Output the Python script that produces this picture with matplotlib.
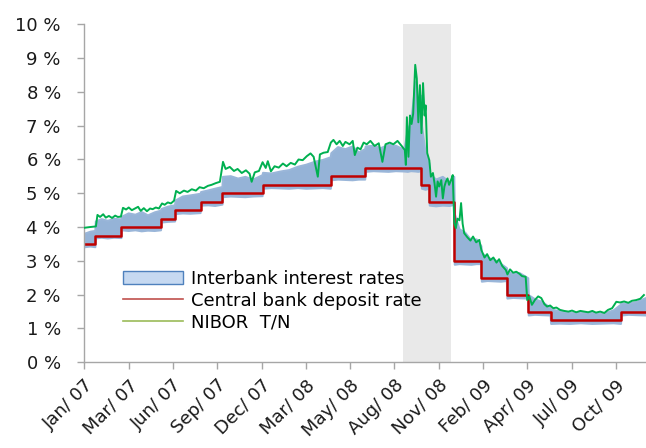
import matplotlib
matplotlib.use("Agg")
import matplotlib.pyplot as plt
from matplotlib.patches import Patch
from matplotlib.lines import Line2D
import pandas as pd

# Central bank deposit rate (step changes)
rate_dates = ["2007-01-01", "2007-01-22", "2007-03-13", "2007-05-28", "2007-06-24",
              "2007-08-12", "2007-09-23", "2007-12-09", "2008-04-18", "2008-06-23",
              "2008-10-09", "2008-10-24", "2008-12-11", "2009-02-01", "2009-03-22",
              "2009-05-02", "2009-06-14", "2009-10-27", "2009-12-14"]
rate_values = [3.50, 3.75, 4.00, 4.25, 4.50, 4.75, 5.00, 5.25, 5.50, 5.75,
               5.25, 4.75, 3.00, 2.50, 2.00, 1.50, 1.25, 1.50, 1.50]

# NIBOR T/N
nibor_dates = [
    "2007-01-01", "2007-01-11", "2007-01-23", "2007-01-26", "2007-01-31", "2007-02-06",
    "2007-02-11", "2007-02-17", "2007-02-23", "2007-03-01", "2007-03-06", "2007-03-12",
    "2007-03-16", "2007-03-22", "2007-03-27", "2007-04-02", "2007-04-08", "2007-04-14",
    "2007-04-19", "2007-04-25", "2007-05-01", "2007-05-07", "2007-05-12", "2007-05-18",
    "2007-05-24", "2007-05-30", "2007-06-04", "2007-06-10", "2007-06-16", "2007-06-22",
    "2007-06-26", "2007-07-03", "2007-07-11", "2007-07-18", "2007-07-26", "2007-08-03",
    "2007-08-10", "2007-08-18", "2007-08-26", "2007-09-02", "2007-09-10", "2007-09-18",
    "2007-09-24", "2007-09-29", "2007-10-07", "2007-10-15", "2007-10-22", "2007-10-30",
    "2007-11-07", "2007-11-14", "2007-11-18", "2007-11-24", "2007-12-02", "2007-12-09",
    "2007-12-15", "2007-12-19", "2007-12-25", "2008-01-01", "2008-01-09", "2008-01-17",
    "2008-01-24", "2008-02-01", "2008-02-09", "2008-02-16", "2008-02-24", "2008-03-03",
    "2008-03-10", "2008-03-16", "2008-03-24", "2008-03-28", "2008-04-04", "2008-04-12",
    "2008-04-18", "2008-04-23", "2008-04-29", "2008-05-05", "2008-05-11", "2008-05-16",
    "2008-05-24", "2008-05-30", "2008-06-03", "2008-06-08", "2008-06-14", "2008-06-20",
    "2008-06-26", "2008-07-03", "2008-07-11", "2008-07-19", "2008-07-26", "2008-08-01",
    "2008-08-09", "2008-08-16", "2008-08-24", "2008-09-01", "2008-09-07", "2008-09-09",
    "2008-09-11", "2008-09-14", "2008-09-17", "2008-09-20", "2008-09-23", "2008-09-27",
    "2008-09-30", "2008-10-03", "2008-10-06", "2008-10-09", "2008-10-12", "2008-10-15",
    "2008-10-17", "2008-10-20", "2008-10-24", "2008-10-27", "2008-10-31", "2008-11-03",
    "2008-11-06", "2008-11-09", "2008-11-12", "2008-11-16", "2008-11-19", "2008-11-22",
    "2008-11-25", "2008-11-28", "2008-12-01", "2008-12-05", "2008-12-08", "2008-12-11",
    "2008-12-14", "2008-12-17", "2008-12-21", "2008-12-24", "2008-12-27", "2008-12-30",
    "2009-01-05", "2009-01-11", "2009-01-16", "2009-01-22", "2009-01-28", "2009-02-01",
    "2009-02-07", "2009-02-12", "2009-02-18", "2009-02-24", "2009-03-02", "2009-03-07",
    "2009-03-13", "2009-03-20", "2009-03-23", "2009-03-28", "2009-04-03", "2009-04-09",
    "2009-04-15", "2009-04-20", "2009-04-27", "2009-04-30", "2009-05-04", "2009-05-09",
    "2009-05-15", "2009-05-21", "2009-05-27", "2009-06-02", "2009-06-07", "2009-06-13",
    "2009-06-19", "2009-06-25", "2009-07-02", "2009-07-10", "2009-07-18", "2009-07-25",
    "2009-08-02", "2009-08-10", "2009-08-17", "2009-08-25", "2009-09-02", "2009-09-09",
    "2009-09-17", "2009-09-25", "2009-10-02", "2009-10-10", "2009-10-18", "2009-10-25",
    "2009-11-02", "2009-11-10", "2009-11-17", "2009-11-25", "2009-12-03", "2009-12-10",
]
nibor_values = [
    3.98, 4.00, 4.02, 4.36, 4.30, 4.38,
    4.28, 4.33, 4.27, 4.34, 4.30, 4.31,
    4.57, 4.52, 4.58, 4.50, 4.55, 4.60,
    4.48, 4.56, 4.47, 4.55, 4.53, 4.58,
    4.55, 4.70, 4.66, 4.73, 4.70, 4.78,
    5.07, 5.00, 5.08, 5.04, 5.12, 5.08,
    5.18, 5.15, 5.22, 5.25, 5.30, 5.34,
    5.93, 5.72, 5.78, 5.66, 5.72, 5.60,
    5.68, 5.58, 5.34, 5.62, 5.66, 5.92,
    5.75, 5.95, 5.65, 5.80, 5.76, 5.88,
    5.80, 5.90, 5.85, 6.00, 5.98, 6.10,
    6.18, 6.08, 5.49, 6.15, 6.20, 6.22,
    6.50, 6.58, 6.45, 6.55, 6.40, 6.52,
    6.45, 6.55, 6.13, 6.35, 6.30, 6.50,
    6.45, 6.55, 6.40, 6.48, 5.93, 6.45,
    6.50, 6.45, 6.55, 6.40, 6.28, 5.84,
    7.25, 6.08, 7.30, 7.05, 7.35, 8.80,
    8.40, 7.10, 8.20, 6.78, 8.26, 7.30,
    7.60, 6.19, 5.98, 5.49, 5.60, 5.30,
    4.90, 5.35, 5.20, 5.39, 4.85, 5.20,
    5.35, 5.44, 5.25, 5.40, 5.54, 4.12,
    3.97, 4.25, 4.20, 4.71, 4.10, 3.82,
    3.70, 3.60, 3.72, 3.55, 3.62, 3.32,
    3.10, 3.20, 3.02, 3.10, 2.95, 3.05,
    2.85, 2.73, 2.60, 2.75, 2.65, 2.68,
    2.62, 2.55, 2.53, 1.84, 1.95, 1.70,
    1.85, 1.95, 1.90, 1.72, 1.65, 1.68,
    1.60, 1.62, 1.55, 1.52, 1.50, 1.53,
    1.48, 1.52, 1.50, 1.48, 1.52, 1.47,
    1.50, 1.46, 1.55, 1.60, 1.79, 1.77,
    1.80, 1.76, 1.82, 1.84, 1.88, 1.99,
]

# Interbank interest rates: range of quoted rates
band_dates = [
    "2007-01-01", "2007-01-12", "2007-01-21", "2007-01-22", "2007-02-02", "2007-02-14",
    "2007-02-26", "2007-03-12", "2007-03-13", "2007-03-26", "2007-04-08", "2007-04-20",
    "2007-05-02", "2007-05-15", "2007-05-27", "2007-05-28", "2007-06-10", "2007-06-23",
    "2007-06-24", "2007-07-08", "2007-07-22", "2007-08-11", "2007-08-12", "2007-08-26",
    "2007-09-08", "2007-09-22", "2007-09-23", "2007-10-08", "2007-10-22", "2007-11-05",
    "2007-11-20", "2007-12-08", "2007-12-09", "2007-12-25", "2008-01-12", "2008-01-28",
    "2008-02-14", "2008-03-01", "2008-03-18", "2008-04-02", "2008-04-17", "2008-04-18",
    "2008-05-01", "2008-05-15", "2008-05-29", "2008-06-10", "2008-06-22", "2008-06-23",
    "2008-07-08", "2008-07-22", "2008-08-06", "2008-08-20", "2008-09-05", "2008-09-12",
    "2008-09-18", "2008-09-27", "2008-10-02", "2008-10-08", "2008-10-09", "2008-10-16",
    "2008-10-23", "2008-10-24", "2008-11-05", "2008-11-18", "2008-12-01", "2008-12-10",
    "2008-12-11", "2008-12-20", "2008-12-31", "2009-01-12", "2009-01-22", "2009-01-31",
    "2009-02-01", "2009-02-12", "2009-02-25", "2009-03-10", "2009-03-21", "2009-03-22",
    "2009-04-02", "2009-04-15", "2009-05-01", "2009-05-02", "2009-05-14", "2009-05-28",
    "2009-06-13", "2009-06-14", "2009-07-01", "2009-07-20", "2009-08-10", "2009-09-01",
    "2009-09-22", "2009-10-12", "2009-10-26", "2009-10-27", "2009-11-10", "2009-11-25",
    "2009-12-14",
]
band_low = [
    3.42, 3.44, 3.42, 3.68, 3.70, 3.68,
    3.70, 3.69, 3.92, 3.90, 3.92, 3.89,
    3.91, 3.90, 3.92, 4.15, 4.17, 4.18,
    4.40, 4.42, 4.41, 4.43, 4.65, 4.66,
    4.64, 4.68, 4.90, 4.92, 4.91, 4.90,
    4.92, 4.93, 5.15, 5.17, 5.16, 5.15,
    5.17, 5.15, 5.16, 5.17, 5.15, 5.40,
    5.42, 5.41, 5.40, 5.42, 5.42, 5.65,
    5.67, 5.66, 5.65, 5.67, 5.66, 5.65,
    5.67, 5.66, 5.65, 5.67, 5.15, 5.12,
    5.15, 4.65, 4.63, 4.65, 4.64, 4.67,
    2.90, 2.92, 2.91, 2.90, 2.92, 2.92,
    2.40, 2.42, 2.41, 2.40, 2.42, 1.90,
    1.92, 1.91, 1.90, 1.40, 1.42, 1.41,
    1.40, 1.15, 1.16, 1.15, 1.17, 1.15,
    1.16, 1.17, 1.15, 1.40, 1.42, 1.41,
    1.40,
]
band_high = [
    3.82, 3.88, 3.90, 4.18, 4.25, 4.20,
    4.26, 4.24, 4.32, 4.42, 4.38, 4.46,
    4.36, 4.45, 4.50, 4.55, 4.62, 4.66,
    4.80, 4.92, 4.95, 5.00, 5.05, 5.10,
    5.15, 5.20, 5.50, 5.52, 5.45, 5.50,
    5.42, 5.55, 5.62, 5.60, 5.66, 5.70,
    5.80, 5.86, 5.95, 6.00, 6.08, 6.20,
    6.38, 6.32, 6.40, 6.22, 6.32, 6.40,
    6.42, 6.35, 6.45, 6.42, 6.30, 6.90,
    7.10, 8.30, 7.60, 7.90, 7.00, 6.20,
    5.90, 5.60, 5.42, 5.50, 5.35, 5.50,
    4.40, 3.95, 3.85, 3.62, 3.65, 3.45,
    3.25, 3.10, 3.05, 2.92, 2.80, 2.70,
    2.62, 2.65, 2.50, 2.00, 1.88, 1.80,
    1.62, 1.58, 1.52, 1.48, 1.47, 1.48,
    1.45, 1.55, 1.72, 1.76, 1.75, 1.80,
    1.92,
]

# Period of financial turmoil (shaded)
shade_start, shade_end = "2008-09-04", "2008-12-05"

tick_labels = ["Jan/ 07", "Mar/ 07", "Jun/ 07", "Sep/ 07", "Dec/ 07", "Mar/ 08",
               "May/ 08", "Aug/ 08", "Nov/ 08", "Feb/ 09", "Apr/ 09", "Jul/ 09", "Oct/ 09"]

rate_d = pd.to_datetime(rate_dates)
nibor_d = pd.to_datetime(nibor_dates)
band_d = pd.to_datetime(band_dates)

plt.rcParams['font.family'] = ['DejaVu Sans']
fig = plt.figure(figsize=(6.46, 4.48), dpi=100)
ax = fig.add_axes([0.1307, 0.1913, 0.8693, 0.7545])

ax.axvspan(pd.Timestamp(shade_start), pd.Timestamp(shade_end), color='#e9e9e9', lw=0, zorder=0)
ax.fill_between(band_d, band_low, band_high, color='#95b3d7', lw=1.5, edgecolor='#9ab6d9', zorder=1)
ax.step(rate_d, rate_values, where='post', color='#c00000', lw=1.8, zorder=2)
ax.plot(nibor_d, nibor_values, color='#00b050', lw=1.4, zorder=3)

start = pd.Timestamp("2007-01-01")
ax.set_xlim(start, pd.Timestamp("2009-12-14"))
ax.set_ylim(0, 10)
ax.set_yticks(range(0, 11))
ax.set_yticklabels([f"{v} %" for v in range(0, 11)])
ticks = [start + pd.Timedelta(days=85 * i) for i in range(len(tick_labels))]
ax.set_xticks(ticks)
ax.set_xticklabels(tick_labels, rotation=45, ha='right', rotation_mode='anchor')

for s in ['top', 'right']:
    ax.spines[s].set_visible(False)
for s in ['left', 'bottom']:
    ax.spines[s].set_color('#a6a6a6')
    ax.spines[s].set_linewidth(1.0)
ax.tick_params(axis='both', colors='#a6a6a6', labelcolor='#1a1a1a', labelsize=13, length=5, width=1)
ax.tick_params(axis='y', pad=12)
ax.tick_params(axis='x', pad=5)

handles = [Patch(facecolor='#c6d9f1', edgecolor='#4f81bd', lw=1.0),
           Line2D([], [], color='#c0504d', lw=1.2),
           Line2D([], [], color='#9bbb59', lw=1.2)]
labels = ["Interbank interest rates", "Central bank deposit rate", "NIBOR  T/N"]
fig.legend(handles, labels, loc='upper left', bbox_to_anchor=(123 / 646, 1 - 270 / 448),
           frameon=False, fontsize=13, handlelength=3.3, handleheight=0.7,
           handletextpad=0.45, labelspacing=0.2, borderpad=0, borderaxespad=0)

fig.savefig("out.png", dpi=100)
